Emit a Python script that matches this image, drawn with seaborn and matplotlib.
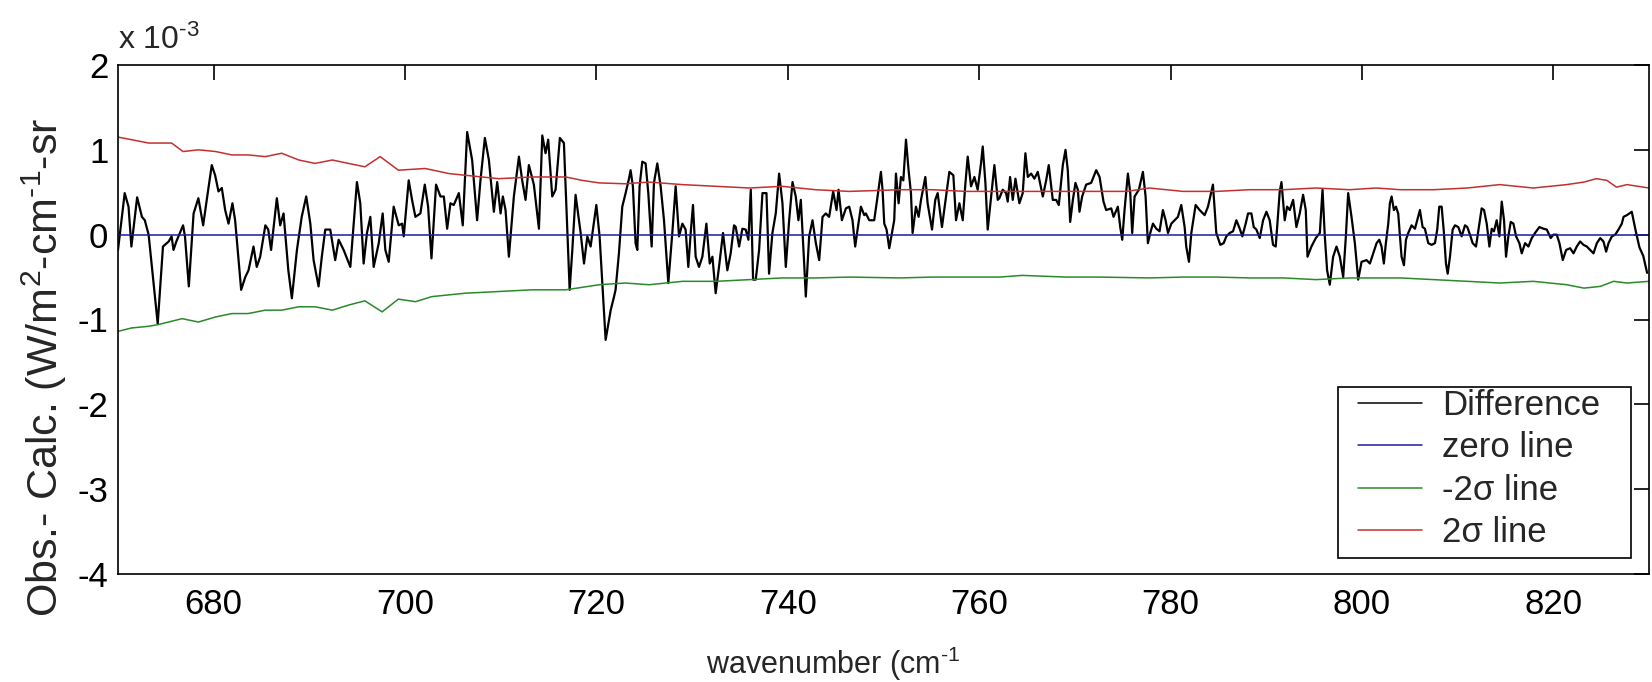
import matplotlib
matplotlib.use("Agg")
import numpy as np
import pandas as pd
import seaborn as sns
import matplotlib.pyplot as plt
from matplotlib.patches import Rectangle
from matplotlib import font_manager

# ---------------- data (values in units of 1e-3) ----------------
diff_wn_1 = [670.0, 670.7, 671.1, 671.4, 672.0, 672.5, 672.8, 673.2, 674.15, 674.7,
             675.3, 675.6, 675.8, 676.1, 676.8, 677.0, 677.4, 677.9, 678.4, 678.9,
             679.3, 679.8, 680.15, 680.5, 680.85, 681.2, 681.55, 681.96, 682.24, 682.87,
             683.3, 683.64, 684.16, 684.5, 684.86, 685.4, 685.7, 686.0, 686.6, 686.95,
             687.3, 687.8, 688.17, 688.7, 689.2, 689.67, 690.1, 690.44, 690.96, 691.3,
             691.66, 692.18, 692.7, 693.06, 693.58, 694.28, 694.63, 694.97, 695.32, 695.67,
             696.02, 696.37, 696.72]
diff_val_1 = [-0.18, 0.49, 0.33, -0.14, 0.44, 0.21, 0.17, 0.0, -1.05, -0.14,
              -0.08, -0.02, -0.18, -0.08, 0.11, -0.02, -0.61, 0.25, 0.43, 0.11,
              0.43, 0.82, 0.70, 0.51, 0.55, 0.29, 0.13, 0.37, 0.17, -0.65,
              -0.50, -0.42, -0.14, -0.38, -0.26, 0.11, 0.06, -0.18, 0.43, 0.11,
              0.25, -0.42, -0.75, -0.18, 0.21, 0.45, 0.13, -0.30, -0.61, -0.26,
              0.06, 0.06, -0.30, -0.06, -0.18, -0.38, 0.13, 0.62, 0.37, -0.34,
              0.02, 0.21, -0.38]

diff_wn_2 = [697.25, 697.66, 697.94, 698.29, 698.81, 699.34, 699.69, 699.86, 700.38, 700.73,
             701.08, 701.6, 702.06, 702.41, 702.76, 703.24, 703.7, 704.05, 704.4, 704.74,
             705.09, 705.62, 706.03, 706.49, 707.01, 707.53, 707.88, 708.34, 708.76, 709.28,
             709.63, 709.98, 710.22, 710.5, 710.85, 711.37, 711.9, 712.24, 712.59, 712.94,
             713.46, 713.99, 714.34, 714.68, 714.96, 715.38, 715.73, 716.18, 716.6, 716.95,
             717.2, 717.48, 717.82, 718.35, 718.7, 719.05, 719.39, 719.99, 720.33, 720.96,
             721.49, 721.84]
diff_val_2 = [-0.10, 0.25, -0.18, -0.32, 0.33, 0.11, 0.13, -0.02, 0.64, 0.41,
              0.21, 0.25, 0.59, 0.33, -0.28, 0.59, 0.45, 0.45, 0.07, 0.37,
              0.35, 0.49, 0.11, 1.21, 0.88, 0.17, 0.64, 1.14, 0.88, 0.27,
              0.62, 0.25, 0.45, 0.29, -0.26, 0.45, 0.92, 0.64, 0.41, 0.82,
              0.59, 0.07, 1.17, 0.96, 1.12, 0.45, 0.53, 1.14, 1.08, 0.09,
              -0.65, -0.18, 0.47, 0.02, -0.34, -0.02, -0.14, 0.35, -0.02, -1.24,
              -0.89, -0.73]

diff_wn_3 = [722.0, 722.35, 722.7, 723.05, 723.4, 723.57, 723.81, 724.09, 724.27, 724.51,
             724.79, 725.14, 725.42, 725.77, 726.01, 726.36, 726.71, 727.06, 727.51, 727.93,
             728.28, 728.63, 728.98, 729.32, 729.6, 729.85, 730.09, 730.37, 730.72, 731.07,
             731.49, 731.84, 732.12, 732.46, 732.81, 733.23, 733.68, 734.03, 734.38, 734.56,
             734.91, 735.25, 735.6, 735.88, 736.13, 736.37, 736.65, 737.0, 737.35, 737.77,
             738.04, 738.39, 738.74, 739.09, 739.44, 739.79, 740.14, 740.49, 740.83, 741.11,
             741.36, 741.71, 741.88, 742.23, 742.58, 742.93, 743.28, 743.63, 743.97, 744.32,
             744.74, 745.09, 745.3, 745.65, 746.07, 746.42, 746.76, 747.04, 747.29, 747.64,
             747.99]
diff_val_3 = [-0.65, -0.22, 0.33, 0.49, 0.66, 0.76, 0.57, -0.10, -0.18, 0.57,
              0.86, 0.84, 0.49, -0.14, 0.61, 0.84, 0.57, 0.17, -0.57, 0.02,
              0.57, -0.02, 0.13, 0.06, -0.38, 0.02, 0.35, -0.26, -0.38, -0.26,
              0.13, -0.34, -0.26, -0.69, -0.38, 0.02, -0.42, -0.22, 0.11, 0.09,
              -0.14, 0.07, 0.06, -0.06, 0.53, -0.53, -0.53, -0.18, 0.49, 0.49,
              -0.46, 0.02, 0.25, 0.72, 0.37, -0.38, 0.17, 0.62, 0.45, 0.17,
              0.41, -0.34, -0.73, -0.02, 0.17, -0.10, -0.30, 0.21, 0.25, 0.21,
              0.51, 0.29, 0.53, 0.17, 0.31, 0.33, 0.17, -0.14, 0.06, 0.33,
              0.23]

diff_wn_4 = [748.16, 748.51, 749.03, 749.38, 749.73, 749.9, 750.08, 750.32, 750.6, 750.88,
             751.12, 751.3, 751.58, 751.82, 752.07, 752.35, 752.62, 752.87, 753.04, 753.39,
             753.67, 753.92, 754.37, 754.61, 755.07, 755.41, 755.66, 756.11, 756.53, 756.88,
             757.3, 757.58, 757.93, 758.28, 758.55, 758.8, 759.15, 759.5, 759.84, 760.19,
             760.37, 760.65, 760.89, 761.14, 761.59, 761.94, 762.11, 762.46, 762.81, 762.98,
             763.23, 763.51, 763.79, 764.2, 764.55, 764.83, 765.08, 765.43, 765.77, 766.12,
             766.65, 767.0, 767.27, 767.69, 768.04, 768.32, 768.74, 769.02, 769.26, 769.51,
             769.79, 770.06, 770.31, 770.48, 770.76, 771.18, 771.7, 772.23, 772.58, 772.99,
             773.27, 773.8, 774.04]
diff_val_4 = [0.25, 0.17, 0.17, 0.45, 0.74, 0.53, 0.13, 0.06, -0.16, 0.02,
              0.17, 0.72, 0.37, 0.68, 0.64, 1.12, 0.76, 0.49, 0.02, 0.33,
              0.21, 0.41, 0.68, 0.37, 0.06, 0.41, 0.49, 0.09, 0.45, 0.74,
              0.70, 0.17, 0.37, 0.17, 0.59, 0.92, 0.57, 0.68, 0.53, 0.84,
              1.04, 0.61, 0.06, 0.33, 0.82, 0.41, 0.43, 0.53, 0.49, 0.39,
              0.68, 0.41, 0.66, 0.37, 0.49, 0.96, 0.68, 0.72, 0.66, 0.74,
              0.45, 0.64, 0.82, 0.41, 0.41, 0.35, 0.82, 1.0, 0.76, 0.15,
              0.41, 0.61, 0.53, 0.27, 0.45, 0.59, 0.61, 0.76, 0.68, 0.39,
              0.29, 0.31, 0.21]

diff_wn_5 = [774.49, 774.74, 774.95, 775.19, 775.54, 775.79, 775.99, 776.24, 776.69, 777.11,
             777.39, 777.63, 777.88, 778.16, 778.51, 778.85, 779.2, 779.48, 779.73, 780.08,
             780.42, 780.77, 781.12, 781.47, 781.64, 781.92, 782.17, 782.62, 783.04, 783.56,
             783.91, 784.43, 784.78, 785.2, 785.55, 785.83, 786.18, 786.53, 786.88, 787.23,
             787.5, 787.85, 788.1, 788.45, 788.69, 788.97, 789.32, 789.67, 790.02, 790.36,
             790.71, 790.99, 791.41, 791.59, 791.93, 792.18, 792.46, 792.81, 793.15, 793.5,
             793.85, 794.13, 794.31, 794.72, 795.18, 795.6, 795.88, 796.12, 796.36, 796.64,
             796.99, 797.34, 797.69, 798.04, 798.32, 798.56, 798.91, 799.26, 799.61, 799.96]
diff_val_5 = [0.33, 0.09, -0.06, 0.29, 0.72, 0.49, 0.02, 0.45, 0.53, 0.74,
              0.45, -0.10, 0.02, 0.13, 0.07, 0.04, 0.29, 0.17, 0.02, 0.13,
              0.17, 0.21, 0.35, 0.09, -0.14, -0.32, 0.02, 0.35, 0.29, 0.23,
              0.33, 0.59, 0.02, -0.12, -0.10, -0.02, 0.02, 0.04, 0.17, 0.07,
              -0.02, 0.13, 0.25, 0.25, 0.09, 0.06, -0.04, 0.17, 0.27, 0.17,
              -0.12, -0.14, 0.51, 0.62, 0.17, 0.33, 0.29, 0.41, 0.09, 0.25,
              0.47, 0.29, -0.26, -0.14, -0.04, 0.02, 0.53, -0.02, -0.42, -0.59,
              -0.26, -0.14, -0.26, -0.50, -0.02, 0.49, 0.21, -0.10, -0.53, -0.32]

diff_wn_6 = [800.48, 800.83, 801.18, 801.53, 801.81, 802.05, 802.29, 802.5, 802.75, 802.92,
             803.1, 803.34, 803.55, 803.79, 803.97, 804.14, 804.39, 804.6, 804.84, 805.19,
             805.54, 805.78, 806.06, 806.34, 806.58, 806.93, 807.28, 807.63, 807.87, 808.08,
             808.33, 808.57, 808.78, 808.96, 809.2, 809.48, 809.72, 810.07, 810.42, 810.77,
             811.01, 811.29, 811.57, 811.92, 812.27, 812.51, 812.76, 813.04, 813.32, 813.56,
             813.8, 814.08, 814.36, 814.61, 814.85, 815.06, 815.3, 815.55, 815.83, 816.11,
             816.45, 816.7, 817.05, 817.4, 817.75, 818.09, 818.55, 818.97, 819.32, 819.73,
             820.01, 820.36, 820.64, 820.99, 821.34, 821.76, 822.11, 822.45, 822.8, 823.15,
             823.5, 823.85, 824.2, 824.55, 824.9, 825.24, 825.52, 825.77, 826.12, 826.47,
             826.81, 827.16, 827.34, 827.69, 828.2, 828.6, 829.0, 829.4, 829.8]
diff_val_6 = [-0.30, -0.34, -0.22, -0.10, -0.06, -0.14, -0.34, -0.10, 0.13, 0.37,
              0.45, 0.29, 0.33, 0.25, -0.02, -0.26, -0.36, -0.06, 0.02, 0.11,
              0.07, 0.17, 0.29, 0.09, 0.07, -0.10, -0.12, -0.10, 0.06, 0.33,
              0.33, 0.02, -0.34, -0.46, -0.26, 0.06, 0.11, 0.09, -0.02, 0.11,
              0.09, 0.0, -0.10, -0.14, 0.13, 0.31, 0.29, 0.13, -0.14, 0.07,
              0.04, 0.17, -0.02, 0.39, 0.17, -0.26, -0.02, 0.15, 0.13, -0.02,
              -0.10, -0.22, -0.10, -0.14, -0.04, 0.02, 0.09, 0.07, 0.06, -0.04,
              0.0, 0.0, -0.10, -0.30, -0.18, -0.16, -0.22, -0.14, -0.08, -0.12,
              -0.14, -0.18, -0.22, -0.10, -0.04, -0.08, -0.20, -0.10, -0.02, 0.0,
              0.06, 0.13, 0.21, 0.23, 0.27, 0.05, -0.15, -0.25, -0.45]

sig_hi_wn = [670.0, 671.4, 673.2, 675.6, 676.8, 678.4, 680.2, 681.9, 683.6, 685.4,
             687.1, 688.9, 690.6, 692.4, 694.1, 695.8, 697.4, 699.3, 702.1, 704.6,
             706.3, 709.8, 713.3, 716.8, 718.5, 720.3, 723.0, 725.5, 729.0, 732.5,
             736.0, 739.4, 742.9, 746.4, 749.2, 751.7, 755.1, 758.6, 762.1, 765.6,
             769.1, 772.6, 775.4, 777.8, 781.3, 784.8, 788.3, 791.8, 795.2, 798.7,
             801.5, 804.0, 807.5, 811.0, 814.4, 817.9, 821.4, 823.2, 824.5, 825.6,
             826.6, 827.7, 830.0]
sig_hi_val = [1.15, 1.12, 1.08, 1.08, 0.98, 1.00, 0.98, 0.94, 0.94, 0.92,
              0.96, 0.88, 0.84, 0.88, 0.84, 0.80, 0.92, 0.76, 0.78, 0.72,
              0.70, 0.66, 0.68, 0.68, 0.64, 0.61, 0.60, 0.62, 0.59, 0.57,
              0.55, 0.57, 0.53, 0.51, 0.52, 0.53, 0.53, 0.51, 0.51, 0.51,
              0.51, 0.51, 0.51, 0.55, 0.51, 0.51, 0.53, 0.53, 0.55, 0.53,
              0.55, 0.53, 0.53, 0.55, 0.59, 0.55, 0.59, 0.62, 0.66, 0.64,
              0.56, 0.59, 0.55]

sig_lo_wn = [670.0, 671.4, 673.2, 674.2, 676.7, 678.4, 680.2, 681.9, 683.6, 685.4,
             687.1, 688.9, 690.6, 692.4, 694.1, 695.8, 697.6, 699.3, 701.1, 702.8,
             706.3, 709.8, 713.3, 716.8, 720.3, 723.0, 725.5, 729.0, 732.5, 736.0,
             739.4, 742.9, 746.4, 751.7, 755.1, 758.6, 762.1, 764.5, 769.1, 772.6,
             777.8, 781.3, 784.8, 788.3, 791.8, 795.2, 798.7, 801.5, 804.0, 807.5,
             811.0, 814.4, 817.9, 821.4, 823.2, 824.9, 826.3, 827.7, 830.0]
sig_lo_val = [-1.14, -1.10, -1.08, -1.06, -0.99, -1.03, -0.97, -0.93, -0.93, -0.89,
              -0.89, -0.85, -0.85, -0.89, -0.83, -0.78, -0.91, -0.76, -0.79, -0.73,
              -0.69, -0.67, -0.65, -0.65, -0.59, -0.57, -0.59, -0.55, -0.55, -0.53,
              -0.51, -0.51, -0.50, -0.51, -0.50, -0.50, -0.50, -0.48, -0.50, -0.50,
              -0.51, -0.50, -0.50, -0.51, -0.51, -0.53, -0.51, -0.51, -0.51, -0.53,
              -0.55, -0.57, -0.55, -0.59, -0.63, -0.61, -0.55, -0.57, -0.55]

zero_wn = [670.0, 830.0]
zero_val = [0.0, 0.0]

x_ticks = [680, 700, 720, 740, 760, 780, 800, 820]
y_ticks = [-4, -3, -2, -1, 0, 1, 2]

# ---------------- assemble ----------------
diff = pd.DataFrame({
    "wn": diff_wn_1 + diff_wn_2 + diff_wn_3 + diff_wn_4 + diff_wn_5 + diff_wn_6,
    "val": diff_val_1 + diff_val_2 + diff_val_3 + diff_val_4 + diff_val_5 + diff_val_6,
})
zero = pd.DataFrame({"wn": zero_wn, "val": zero_val})
lo = pd.DataFrame({"wn": sig_lo_wn, "val": sig_lo_val})
hi = pd.DataFrame({"wn": sig_hi_wn, "val": sig_hi_val})

# ---------------- style ----------------
sns.set_theme(style="white")
plt.rcParams["font.family"] = ["Liberation Sans", "DejaVu Sans"]
plt.rcParams["mathtext.fontset"] = "custom"
plt.rcParams["mathtext.rm"] = "Liberation Sans"
plt.rcParams["mathtext.it"] = "Liberation Sans:italic"
plt.rcParams["mathtext.default"] = "regular"
plt.rcParams["axes.unicode_minus"] = False

# a narrow sans face for the x label if one is installed
installed = {f.name for f in font_manager.fontManager.ttflist}
narrow = "Liberation Sans Narrow" in installed

FS = 25
HY = "\u2010"  # short hyphen used in the superscripts
fig = plt.figure(figsize=(16.52, 6.82), dpi=100)
ax = fig.add_axes([118 / 1652, 1 - 574 / 682, (1649 - 118) / 1652, (574 - 65) / 682])
ax.set_facecolor("white")

kw = dict(ax=ax, x="wn", y="val", estimator=None, sort=False)
sns.lineplot(data=diff, color="black", linewidth=1.6, label="Difference", **kw)
sns.lineplot(data=zero, color="#1c1c9c", linewidth=1.1, label="zero line", **kw)
sns.lineplot(data=lo, color="#2a8a2a", linewidth=1.1, label="-2\u03c3 line", **kw)
sns.lineplot(data=hi, color="#c43030", linewidth=1.1, label="2\u03c3 line", **kw)

ax.set_xlim(670, 830)
ax.set_ylim(-4, 2)
ax.set_xticks(x_ticks)
ax.set_yticks(y_ticks)
ax.set_xticklabels([str(t) for t in x_ticks])
ax.set_yticklabels([str(t) for t in y_ticks])
ax.tick_params(axis="both", direction="in", length=11, width=1.2, labelsize=FS,
               top=True, right=True, colors="black")
ax.tick_params(axis="x", pad=10)
ax.tick_params(axis="y", pad=7)
for s in ax.spines.values():
    s.set_visible(True)
    s.set_color("black")
    s.set_linewidth(1.2)

# axis labels
ax.set_xlabel("")
if narrow:
    fig.text(714 / 1652, 1 - 674 / 682, "wavenumber (cm$^{" + HY + "1}$",
             fontsize=25, family=["Liberation Sans Narrow", "DejaVu Sans"],
             ha="left", va="baseline")
else:
    fig.text(706 / 1652, 1 - 674 / 682, "wavenumber (cm$^{" + HY + "1}$",
             fontsize=22, ha="left", va="baseline")
ax.set_ylabel("Obs.- Calc. (W/m$^2$-cm$^{" + HY + "1}$-sr", fontsize=31)
ax.yaxis.set_label_coords(-0.032, 0.405)
# exponent label
ax.text(0.0, 1.018, "x 10$^{" + HY + "3}$", transform=ax.transAxes, fontsize=23,
        ha="left", va="bottom")

# legend: frame drawn as a box in axes fraction, entries placed inside it
ax.add_patch(Rectangle((0.7969, 0.0314), 0.9882 - 0.7969, 0.3674 - 0.0314,
                       transform=ax.transAxes, facecolor="white", edgecolor="black",
                       linewidth=1.2, zorder=4))
leg = ax.legend(loc="upper left", bbox_to_anchor=(0.8099, 0.3635), fontsize=FS,
                frameon=False, handlelength=1.84, handletextpad=0.58,
                labelspacing=0.27, borderpad=0.0, borderaxespad=0.0)
leg.set_zorder(5)
for ln in leg.get_lines():
    ln.set_linewidth(1.1)

fig.savefig("out.png", dpi=100, facecolor="white")
